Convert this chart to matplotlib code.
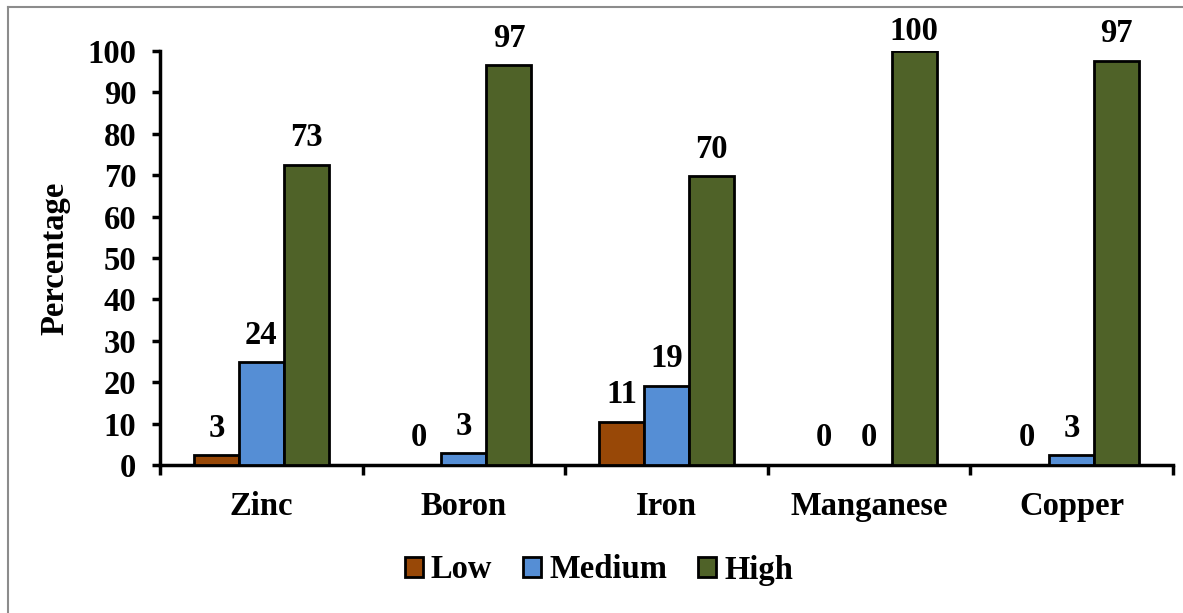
import matplotlib
matplotlib.use("Agg")
import matplotlib.pyplot as plt
from matplotlib.lines import Line2D
import numpy as np

categories = ["Zinc", "Boron", "Iron", "Manganese", "Copper"]
series_names = ["Low", "Medium", "High"]
low_values = [2.4, 0, 10.4, 0, 0]
medium_values = [24.8, 2.8, 19.1, 0, 2.4]
high_values = [72.5, 96.6, 69.8, 100, 97.6]
low_labels = ["3", "0", "11", "0", "0"]
medium_labels = ["24", "3", "19", "0", "3"]
high_labels = ["73", "97", "70", "100", "97"]
y_ticks = [0, 10, 20, 30, 40, 50, 60, 70, 80, 90, 100]

colors = ["#984807", "#558ED5", "#4F6228"]

plt.rcParams["font.family"] = ["Liberation Serif", "DejaVu Serif"]
plt.rcParams["font.weight"] = "bold"
FS = 23.5

W, H = 1183, 613
fig = plt.figure(figsize=(W / 100, H / 100), dpi=100)
ax = fig.add_axes([160 / W, (H - 465) / H, 1013 / W, 414 / H])

x = np.arange(len(categories))
bw = 0.222
ax.set_xlim(-0.5, len(categories) - 0.5)
ax.set_ylim(0, 100)

series = [low_values, medium_values, high_values]
labels = [low_labels, medium_labels, high_labels]
max_label_center_px = H - 31  # labels kept inside the chart area (display coords)
for i, (vals, labs) in enumerate(zip(series, labels)):
    xs = x + (i - 1) * bw
    ax.bar(xs, vals, width=bw, color=colors[i], edgecolor="black",
           linewidth=2, label=series_names[i], zorder=3)
    for xi, v, lab in zip(xs, vals, labs):
        top_px = ax.transData.transform((xi, v))[1]
        off_px = min(27, max_label_center_px - top_px)
        ax.annotate(lab, (xi, v), xytext=(0, off_px * 0.72), textcoords="offset points",
                    ha="center", va="center", fontsize=FS, fontweight="bold",
                    annotation_clip=False)

ax.set_yticks(y_ticks)
ax.set_yticklabels([str(t) for t in y_ticks], fontsize=FS, fontweight="bold")
ax.set_xticks(np.arange(-0.5, len(categories), 1.0))
ax.set_xticklabels([])
ax.set_xticks(x, minor=True)
ax.set_xticklabels(categories, minor=True, fontsize=FS, fontweight="bold")
ax.tick_params(axis="x", which="major", length=7, width=2.5, direction="out")
ax.tick_params(axis="x", which="minor", length=0, pad=19)
ax.tick_params(axis="y", length=6, width=2.5, direction="out", pad=11)

for s in ["top", "right"]:
    ax.spines[s].set_visible(False)
for s in ["left", "bottom"]:
    ax.spines[s].set_linewidth(2.5)

ax.set_ylabel("Percentage", fontsize=FS, fontweight="bold", labelpad=12)

leg = fig.legend(loc="center", bbox_to_anchor=(599 / W, 1 - 570 / H), ncol=3,
                 frameon=False, prop={"size": FS, "weight": "bold"},
                 handlelength=0.55, handleheight=0.55, handletextpad=0.25,
                 columnspacing=0.95)

# light gray page border (top and left)
fig.add_artist(Line2D([8 / W, 8 / W], [0, 1 - 7 / H], color="#8c8c8c", lw=1.5,
                      transform=fig.transFigure))
fig.add_artist(Line2D([8 / W, 1], [1 - 7 / H, 1 - 7 / H], color="#8c8c8c", lw=1.5,
                      transform=fig.transFigure))

fig.savefig("out.png", dpi=100)
